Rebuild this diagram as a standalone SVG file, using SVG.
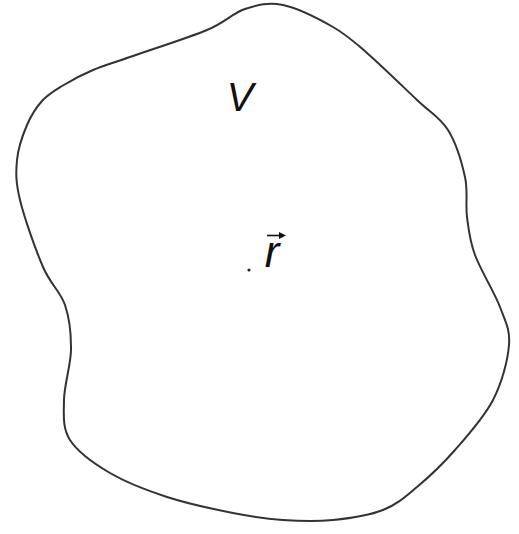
<svg xmlns="http://www.w3.org/2000/svg" width="519" height="534" viewBox="0 0 519 534">
<style>
.outline{fill:none;stroke:#333;stroke-width:2}
.lbl{font-family:"Liberation Sans",Arial,sans-serif;font-style:italic;fill:#111}
</style>
<rect width="519" height="534" fill="#fff"/>
<g id="region-V">
<path class="outline" d="M 283 5 C 297.7 8, 319 19, 333 27 C 347 35, 353 40.8, 367 53 C 381 65.2, 403.5 87.2, 417 100 C 430.5 112.8, 440 117.2, 448 130 C 456 142.8, 461.8 162.5, 465 177 C 468.2 191.5, 465.3 204, 467 217 C 468.7 230, 469.5 240, 475 255 C 480.5 270, 494.3 292, 500 307 C 505.7 322, 510.2 329.5, 509 345 C 507.8 360.5, 502 382.5, 493 400 C 484 417.5, 467.7 435.5, 455 450 C 442.3 464.5, 429 477, 417 487 C 405 497, 397 504.5, 383 510 C 369 515.5, 349.7 518.3, 333 520 C 316.3 521.7, 299.7 521.2, 283 520 C 266.3 518.8, 252.3 516.8, 233 513 C 213.7 509.2, 187.5 503.7, 167 497 C 146.5 490.3, 126.2 482.5, 110 473 C 93.8 463.5, 77.7 452.2, 70 440 C 62.3 427.8, 63.8 415, 64 400 C 64.2 385, 70.8 365, 71 350 C 71.2 334.2, 69.7 318.8, 65 305 C 60.3 291.2, 50.5 284.5, 43 267 C 35.5 249.5, 24.3 217.8, 20 200 C 15.7 182.2, 15.8 172.5, 17 160 C 18.2 147.5, 22.8 134.8, 27 125 C 31.2 115.2, 36.2 107.5, 42 101 C 47.8 94.5, 53.5 91.2, 62 86 C 70.5 80.8, 81.2 75, 93 70 C 104.8 65, 114 62.7, 133 56 C 152 49.3, 188.3 37.8, 207 30 C 225.7 22.3, 232.3 13.2, 245 9 C 257.7 4.8, 268.3 2, 283 5 Z"/>
<text class="lbl" x="240" y="111" font-size="40" text-anchor="middle">V</text>
</g>
<g id="point-r">
<circle cx="249" cy="270" r="1.6" fill="#222"/>
<text class="lbl" x="272" y="267" font-size="44" text-anchor="middle">r</text>
<path d="M 267 235.5 H 283" stroke="#111" stroke-width="1.6" fill="none"/>
<path d="M 286 235.5 L 279 232 L 279 239 Z" fill="#111"/>
</g>
</svg>
